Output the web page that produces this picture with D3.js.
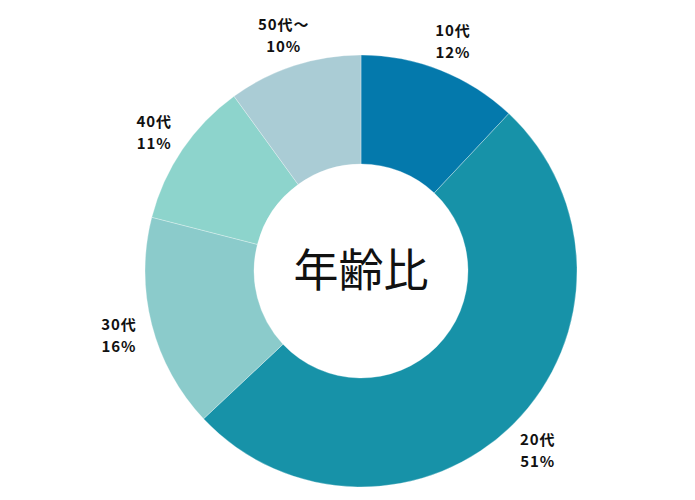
<!DOCTYPE html>
<html lang="ja">
<head>
    <meta charset="UTF-8">
    <title>年齢比</title>
    <script src="https://d3js.org/d3.v7.min.js"></script>
    <style>
        body {
            margin: 0;
            background: #fff;
        }
        .label {
            font-family: "Noto Sans CJK JP", sans-serif;
            font-size: 15px;
            font-weight: bold;
            letter-spacing: 0.9px;
            fill: #111;
        }
        .center-title {
            font-family: "Noto Sans CJK JP", sans-serif;
            font-size: 45px;
            fill: #111;
        }
    </style>
</head>
<body>
    <svg width="695" height="500"></svg>

    <script>
        const categories = ["10代", "20代", "30代", "40代", "50代〜"];
        const shares = [12, 51, 16, 11, 10];
        const colors = ["#0479ac", "#1792a8", "#8bcbcb", "#8dd4cc", "#aaccd5"];

        const width = 695, height = 500;
        const cx = 361, cy = 271;
        const outerR = 216, innerR = 107, labelR = 250;

        const svg = d3.select("svg");
        const g = svg.append("g").attr("transform", `translate(${cx},${cy})`);

        const data = categories.map((c, i) => ({ name: c, value: shares[i], color: colors[i] }));

        const pie = d3.pie().value(d => d.value).sort(null);
        const arc = d3.arc().innerRadius(innerR).outerRadius(outerR);
        const labelArc = d3.arc().innerRadius(labelR).outerRadius(labelR);

        const arcs = pie(data);

        g.selectAll("path")
            .data(arcs)
            .enter().append("path")
            .attr("d", arc)
            .attr("fill", d => d.data.color)
            .attr("stroke", "#fff")
            .attr("stroke-width", 0.3);

        // two separate text lines per slice: name, then percent
        const labels = g.selectAll("g.label-group")
            .data(arcs)
            .enter().append("g")
            .attr("class", "label-group")
            .attr("transform", d => `translate(${labelArc.centroid(d)})`);

        labels.append("text")
            .attr("class", "label")
            .attr("text-anchor", "middle")
            .attr("y", -3)
            .text(d => d.data.name);

        labels.append("text")
            .attr("class", "label")
            .attr("text-anchor", "middle")
            .attr("y", 19)
            .text(d => d.data.value + "%");

        g.append("text")
            .attr("class", "center-title")
            .attr("text-anchor", "middle")
            .attr("dy", "0.36em")
            .text("年齢比");
    </script>
</body>
</html>
